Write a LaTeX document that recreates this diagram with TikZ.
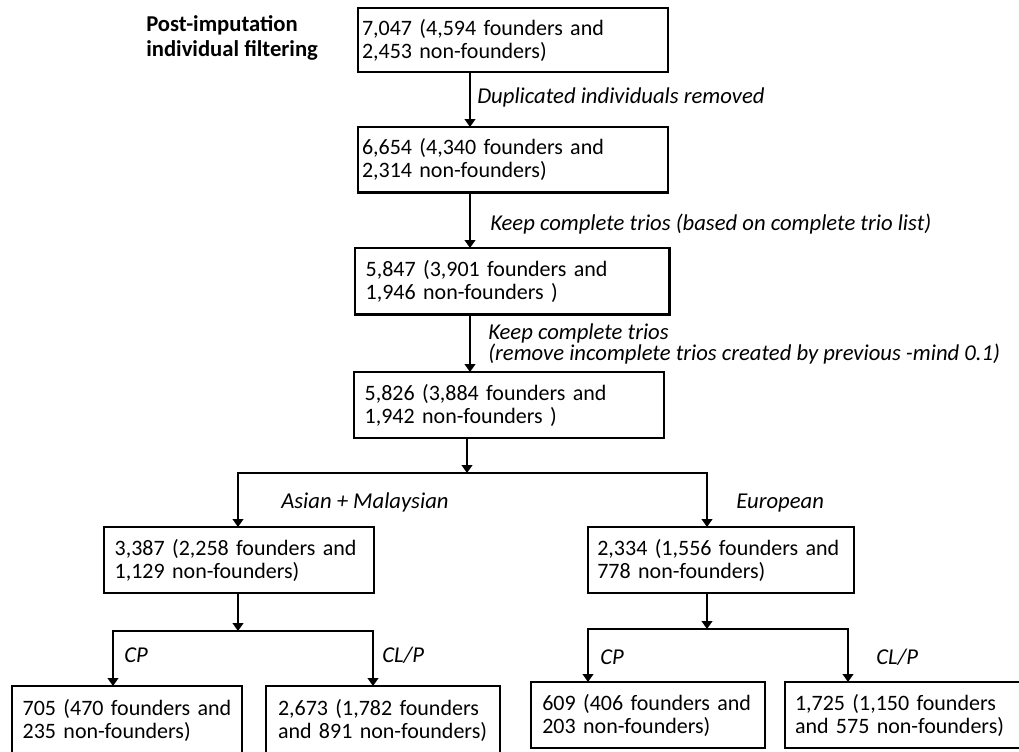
\documentclass[tikz,border=0pt]{standalone}
\usepackage{fontspec}
\setmainfont{Carlito}
\usetikzlibrary{arrows.meta}

\tikzset{
  box/.style={draw, line width=2pt, anchor=north west, align=left, outer sep=0pt,
    inner ysep=0pt, font=\fontsize{16.5}{17.25}\selectfont},
  lab/.style={anchor=west, inner sep=0pt, font=\fontsize{17}{15}\selectfont\itshape},
  arr/.style={line width=2pt, -{Triangle[width=8pt,length=6pt]}},
  fork/.style={line width=2pt, {Triangle[width=8pt,length=6pt]}-{Triangle[width=8pt,length=6pt]}},
}

\begin{document}
\begin{tikzpicture}[x=0.75pt, y=-0.75pt]

\clip (0,0) rectangle (1019,751);

\node[anchor=west, align=left, inner sep=0pt, font=\fontsize{17}{18.75}\selectfont\bfseries] (ttl) at (146,38)
  {Post-imputation\\individual filtering};

% main column
\node[box, text width=226.5pt, minimum height=48pt, inner xsep=3pt] (b1) at (358,8)
  {7,047 (4,594 founders and\\2,453 non-founders)};
\node[box, text width=226.5pt, minimum height=49pt, inner xsep=3pt] (b2) at (358,127)
  {6,654 (4,340 founders and\\2,314 non-founders)};
\node[box, text width=220pt, minimum height=50pt, inner xsep=8pt] (b3) at (355,248)
  {5,847 (3,901 founders and\\1,946 non-founders )};
\node[box, text width=216.5pt, minimum height=49.5pt, inner xsep=8pt] (b4) at (354,372)
  {5,826 (3,884 founders and\\1,942 non-founders )};

% populations
\node[box, text width=186.5pt, minimum height=49.5pt, inner xsep=8pt] (a5) at (104,527)
  {3,387 (2,258 founders and\\1,129 non-founders)};
\node[box, text width=185.5pt, minimum height=49.5pt, inner xsep=7pt] (e5) at (588,527)
  {2,334 (1,556 founders and\\778 non-founders)};

% phenotypes
\node[box, text width=156.5pt, minimum height=51pt, inner xsep=8pt] (a6) at (12,686)
  {705 (470 founders and\\235 non-founders)};
\node[box, text width=157.5pt, minimum height=51pt, inner xsep=9pt] (a7) at (266,686)
  {2,673 (1,782 founders\\and 891 non-founders)};
\node[box, text width=158.5pt, minimum height=49.5pt, inner xsep=8.5pt] (e6) at (531,682)
  {609 (406 founders and\\203 non-founders)};
\node[box, text width=162.75pt, minimum height=49.5pt, inner xsep=7.5pt] (e7) at (785,682)
  {1,725 (1,150 founders\\and 575 non-founders)};

\coordinate (ax) at (470,0);
\draw[arr] (b1.south -| ax) -- (b2.north -| ax);
\draw[arr] (b2.south -| ax) -- (b3.north -| ax);
\draw[arr] (b3.south -| ax) -- (b4.north -| ax);

\coordinate (j0) at (467,473);
\coordinate (jl) at (238,473);
\coordinate (jr) at (707,473);
\draw[arr] (b4.south -| j0) -- (j0);
\draw[fork] (a5.north -| jl) -- (jl) -- (jr) -- (e5.north -| jr);

\coordinate (ja) at (238,631);
\coordinate (al) at (113,631);
\coordinate (ar) at (373,631);
\draw[arr] (a5.south -| ja) -- (ja);
\draw[fork] (a6.north -| al) -- (al) -- (ar) -- (a7.north -| ar);

\coordinate (je) at (707,629);
\coordinate (el) at (588,629);
\coordinate (er) at (848,629);
\draw[arr] (e5.south -| je) -- (je);
\draw[fork] (e6.north -| el) -- (el) -- (er) -- (e7.north -| er);

% step labels
\node[lab] (l1) at (477,97) {Duplicated individuals removed};
\node[lab] (l2) at (490,224) {Keep complete trios (based on complete trio list)};
\node[lab, align=left] (l3) at (488,344) {Keep complete trios\\(remove incomplete trios created by previous -mind 0.1)};
\node[lab] (l5) at (281,502) {Asian + Malaysian};
\node[lab] (l6) at (736,503) {European};
\foreach \x/\y/\t [count=\i] in {124/655/CP, 382/655/CL\slash P, 600/657/CP, 876/657/CL\slash P}
  \node[lab] (p\i) at (\x,\y) {\t};

\end{tikzpicture}
\end{document}
